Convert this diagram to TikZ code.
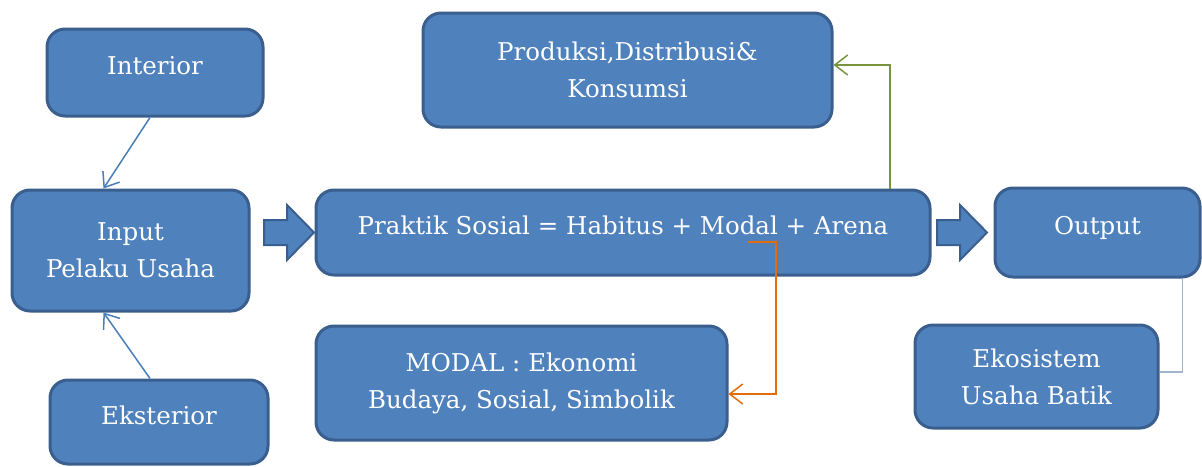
\documentclass[tikz,border=0pt]{standalone}
\usepackage{fontspec}
\setmainfont{DejaVu Serif}
\usetikzlibrary{arrows.meta}

\definecolor{boxblue}{HTML}{4F81BD}
\definecolor{boxedge}{HTML}{3A5F8E}
\definecolor{linkblue}{HTML}{4A7EBB}
\definecolor{linkgreen}{HTML}{77933C}
\definecolor{linkorange}{HTML}{E46C0A}
\definecolor{linkgray}{HTML}{A3B5CD}

\tikzset{
  box/.style={draw=boxedge, fill=boxblue, line width=3pt, rounded corners=18pt,
    text=white, align=center, inner sep=0pt, font=\fontsize{24.5}{37}\selectfont},
  oneline/.style={text height=18pt, text depth=14pt},
  link/.style={line width=1.5pt, -{Straight Barb[length=13pt,width=20pt]}},
  fatarrow/.style={draw=boxedge, fill=boxblue, line width=2pt, line join=miter},
}

\begin{document}
\begin{tikzpicture}[x=1pt, y=-1pt]
    \useasboundingbox (0,0) rectangle (1202,466);

    % boxes
    \node[box, oneline, minimum width=216pt, minimum height=87pt] (interior) at (155,72.5) {Interior};
    \node[box, minimum width=237pt, minimum height=121pt] (input) at (130.5,250.5) {Input\\Pelaku Usaha};
    \node[box, oneline, minimum width=218pt, minimum height=84pt] (eksterior) at (159,422) {Eksterior};
    \node[box, minimum width=409pt, minimum height=114pt] (produksi) at (627.5,70) {Produksi,Distribusi\&\\Konsumsi};
    \node[box, oneline, minimum width=614pt, minimum height=85pt] (praktik) at (623,232.5) {Praktik Sosial = Habitus + Modal + Arena};
    \node[box, oneline, minimum width=205pt, minimum height=89pt] (output) at (1097.5,232.5) {Output};
    \node[box, minimum width=411pt, minimum height=114pt] (modal) at (521.5,383) {MODAL : Ekonomi\\Budaya, Sosial, Simbolik};
    \node[box, minimum width=243pt, minimum height=103pt] (ekosistem) at (1036.5,376.5) {Ekosistem\\Usaha Batik};

    % block arrows
    \draw[fatarrow] (264,220) -- (287,220) -- (287,205) -- (314,232.5) -- (287,260) -- (287,245) -- (264,245) -- cycle;
    \draw[fatarrow] (937,220) -- (960,220) -- (960,205) -- (987,232.5) -- (960,260) -- (960,245) -- (937,245) -- cycle;

    % connectors
    \draw[link, linkblue] ([xshift=-5pt]interior.south) -- ([xshift=-27pt]input.north);
    \draw[link, linkblue] ([xshift=-9pt]eksterior.north) -- ([xshift=-27pt]input.south);
    \draw[link, linkgreen] ([xshift=267pt]praktik.north) |- ([yshift=5pt]produksi.east);
    \draw[link, linkorange] ([xshift=125pt,yshift=-9.5pt]praktik.center) -- ++(28,0) |- ([yshift=-11pt]modal.east);
    \draw[line width=1.5pt, linkgray] ([xshift=85pt]output.south) |- ([yshift=4.5pt]ekosistem.east);

\end{tikzpicture}
\end{document}
